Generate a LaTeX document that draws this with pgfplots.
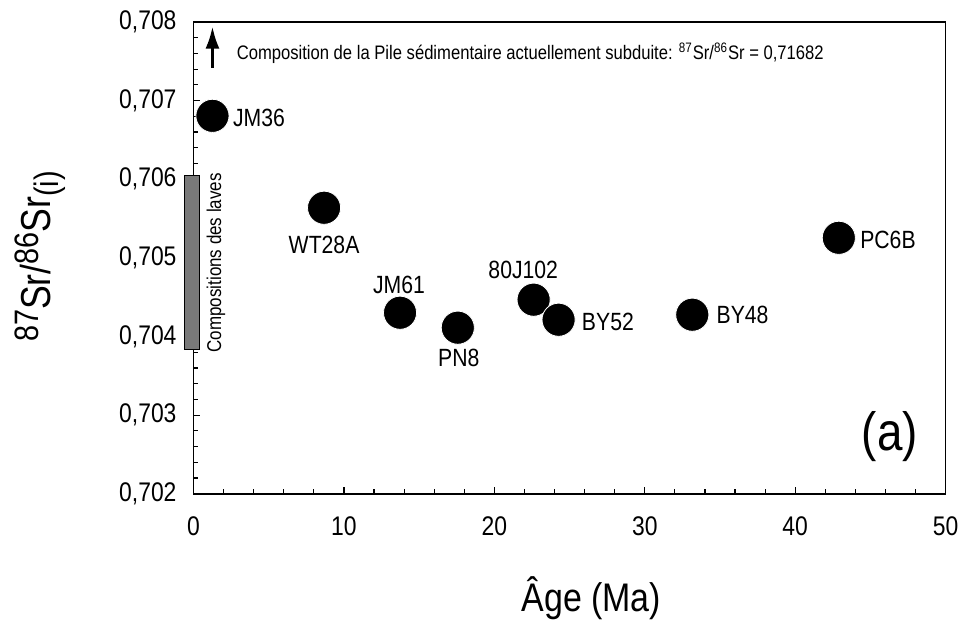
\documentclass[border=0pt]{standalone}
\usepackage{fontspec}
\setmainfont{Liberation Sans}[FakeStretch=0.85]
\usepackage{pgfplots}
\pgfplotsset{compat=1.18}
\usetikzlibrary{arrows.meta}
\begin{document}
\begin{tikzpicture}
\begin{axis}[
  scale only axis,
  width=377pt, height=236.5pt,
  xmin=0, xmax=50, ymin=0.702, ymax=0.708,
  xtick={0,10,...,50}, ytick={0.702,0.703,...,0.708},
  minor x tick num=4, minor y tick num=4,
  tick align=inside,
  xtick pos=bottom, ytick pos=left,
  major tick length=3.5pt, minor tick length=2.5pt,
  tick style={black, line width=0.6pt},
  axis line style={line width=0.8pt},
  /pgf/number format/assume math mode=true,
  /pgf/number format/use comma,
  yticklabel style={/pgf/number format/fixed, /pgf/number format/precision=3, /pgf/number format/fixed zerofill, font=\fontsize{13.5}{16}\selectfont, xshift=-5pt},
  xticklabel style={font=\fontsize{13.5}{16}\selectfont, yshift=-8pt},
  scaled y ticks=false,
  xlabel={Âge (Ma)},
  ylabel={\raisebox{0.55ex}{\fontsize{17}{18}\selectfont 87}Sr/\raisebox{0.55ex}{\fontsize{17}{18}\selectfont 86}Sr\raisebox{-0.35ex}{\fontsize{17}{18}\selectfont (i)}},
  xlabel style={font=\fontsize{20}{22}\selectfont, at={(axis description cs:0.529,-0.222)}, anchor=center},
  ylabel style={font=\fontsize{21}{24}\selectfont, at={(axis description cs:-0.204,0.503)}, anchor=center},
  clip=false,
]
\draw[fill=gray!95!black, draw=black, line width=0.6pt] (axis cs:-0.6,0.703832) rectangle (axis cs:0.4,0.706043);
\addplot[only marks, mark=*, mark size=8.3pt, mark options={fill=black, draw=white, line width=0.4pt}] coordinates {
(1.26,0.706806)
(8.68,0.705637)
(13.73,0.704302)
(17.57,0.704112)
(22.61,0.704468)
(24.27,0.704213)
(33.16,0.704277)
(42.9,0.705255)
};
\draw[-{Latex[length=11pt,width=7pt]}, line width=1.3pt] (axis cs:1.26,0.70742) -- (axis cs:1.26,0.70794);
\node[anchor=west, inner sep=0pt, font=\fontsize{9.8}{12}\selectfont] at (axis cs:2.85,0.707606) {Composition de la Pile sédimentaire actuellement subduite: \textsuperscript{87}Sr/\textsuperscript{86}Sr = 0,71682};
\node[rotate=90, font=\fontsize{10}{12}\selectfont] at (axis cs:1.5,0.704938) {Compositions des laves};
\begin{scope}[every node/.style={font=\fontsize{12.5}{14}\selectfont}]
\node[anchor=west, inner sep=0pt] at (axis cs:2.6,0.70678) {JM36};
\node at (axis cs:8.68,0.705166) {WT28A};
\node at (axis cs:13.66,0.704658) {JM61};
\node at (axis cs:17.64,0.703731) {PN8};
\node at (axis cs:21.92,0.70485) {80J102};
\node[anchor=west, inner sep=0pt] at (axis cs:25.8,0.704188) {BY52};
\node[anchor=west, inner sep=0pt] at (axis cs:34.75,0.704277) {BY48};
\node[anchor=west, inner sep=0pt] at (axis cs:44.3,0.70523) {PC6B};
\end{scope}
\node[font=\fontsize{27}{30}\selectfont] at (axis cs:46.3,0.702727) {(a)};
\end{axis}
\path (current axis.south west) ++(-97pt,-64pt) rectangle ++(482.5pt,311.5pt);
\end{tikzpicture}
\end{document}
